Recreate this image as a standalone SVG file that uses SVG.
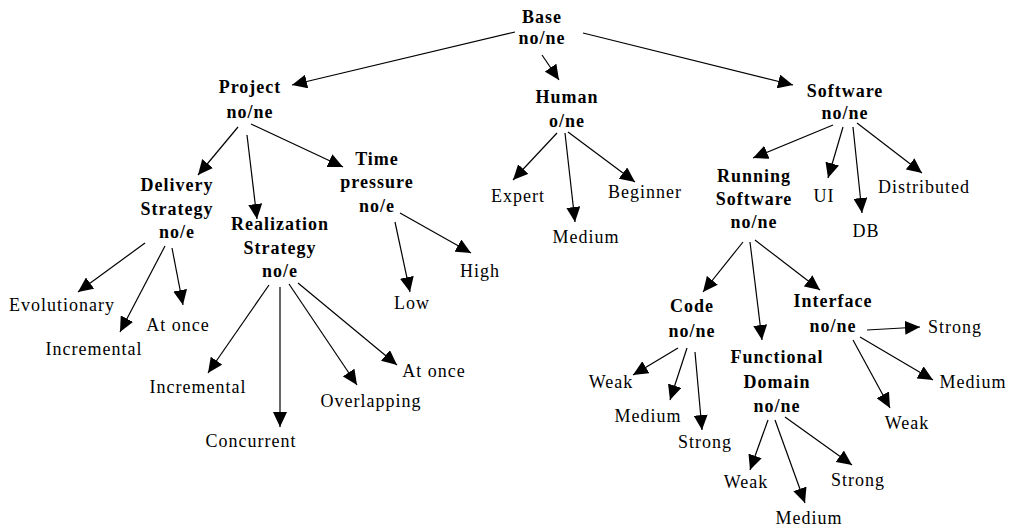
<svg xmlns="http://www.w3.org/2000/svg" width="1011" height="531" viewBox="0 0 1011 531">
<style>
text{font-family:"Liberation Serif","Times New Roman",serif;font-size:18px;letter-spacing:1px;fill:#000;text-anchor:middle}
.n text{font-weight:bold}
.c line{stroke:#000;stroke-width:1.2;marker-end:url(#ah)}
</style>
<defs>
<marker id="ah" markerUnits="userSpaceOnUse" markerWidth="15" markerHeight="14" refX="15" refY="7" orient="auto" viewBox="0 0 15 14">
<path d="M0,0 L15,7 L0,14 z" fill="#000"/>
</marker>
</defs>
<rect width="1011" height="531" fill="#fff"/>
<g class="c" id="connectors">
<line x1="515" y1="32" x2="292" y2="85"/>
<line x1="542" y1="55" x2="559" y2="80"/>
<line x1="583" y1="33" x2="793" y2="85"/>
<line x1="238" y1="127" x2="198" y2="175"/>
<line x1="247" y1="135" x2="257" y2="219"/>
<line x1="251" y1="124" x2="343" y2="167"/>
<line x1="145" y1="243" x2="78" y2="292"/>
<line x1="165" y1="246" x2="120" y2="332"/>
<line x1="172" y1="248" x2="183" y2="305"/>
<line x1="269" y1="285" x2="208" y2="373"/>
<line x1="280" y1="287" x2="280" y2="427"/>
<line x1="289" y1="284" x2="357" y2="385"/>
<line x1="298" y1="283" x2="397" y2="365"/>
<line x1="395" y1="222" x2="410" y2="292"/>
<line x1="400" y1="213" x2="471" y2="253"/>
<line x1="557" y1="133" x2="513" y2="180"/>
<line x1="565" y1="133" x2="575" y2="222"/>
<line x1="568" y1="132" x2="635" y2="182"/>
<line x1="833" y1="125" x2="753" y2="158"/>
<line x1="843" y1="127" x2="828" y2="178"/>
<line x1="853" y1="127" x2="862" y2="213"/>
<line x1="857" y1="123" x2="922" y2="173"/>
<line x1="743" y1="242" x2="703" y2="292"/>
<line x1="750" y1="242" x2="762" y2="340"/>
<line x1="755" y1="240" x2="820" y2="290"/>
<line x1="678" y1="348" x2="633" y2="375"/>
<line x1="687" y1="348" x2="670" y2="400"/>
<line x1="695" y1="352" x2="702" y2="430"/>
<line x1="867" y1="330" x2="920" y2="327"/>
<line x1="853" y1="340" x2="890" y2="408"/>
<line x1="860" y1="337" x2="933" y2="380"/>
<line x1="768" y1="420" x2="750" y2="470"/>
<line x1="775" y1="420" x2="805" y2="503"/>
<line x1="785" y1="417" x2="852" y2="465"/>
</g>
<g class="n" id="base"><text x="542" y="23">Base</text><text x="542" y="44">no/ne</text></g>
<g class="n" id="project"><text x="250" y="93">Project</text><text x="250" y="118">no/ne</text></g>
<g class="n" id="human"><text x="567" y="103">Human</text><text x="567" y="127">o/ne</text></g>
<g class="n" id="software"><text x="845" y="97">Software</text><text x="845" y="119">no/ne</text></g>
<g class="n" id="delivery"><text x="177" y="191">Delivery</text><text x="177" y="215">Strategy</text><text x="177" y="238">no/e</text></g>
<g class="n" id="realization"><text x="280" y="230">Realization</text><text x="280" y="254">Strategy</text><text x="280" y="277">no/e</text></g>
<g class="n" id="time"><text x="377" y="165">Time</text><text x="377" y="188">pressure</text><text x="377" y="212">no/e</text></g>
<g class="n" id="running"><text x="754" y="182">Running</text><text x="754" y="205">Software</text><text x="754" y="228">no/ne</text></g>
<g class="n" id="code"><text x="692" y="312">Code</text><text x="692" y="337">no/ne</text></g>
<g class="n" id="interface"><text x="833" y="307">Interface</text><text x="833" y="332">no/ne</text></g>
<g class="n" id="functional"><text x="777" y="363">Functional</text><text x="777" y="388">Domain</text><text x="777" y="412">no/ne</text></g>
<g id="leaf-evolutionary"><text x="62" y="311">Evolutionary</text></g>
<g id="leaf-d-atonce"><text x="178" y="331">At once</text></g>
<g id="leaf-d-incremental"><text x="94" y="355">Incremental</text></g>
<g id="leaf-r-incremental"><text x="198" y="393">Incremental</text></g>
<g id="leaf-concurrent"><text x="251" y="447">Concurrent</text></g>
<g id="leaf-overlapping"><text x="371" y="407">Overlapping</text></g>
<g id="leaf-r-atonce"><text x="434" y="377">At once</text></g>
<g id="leaf-low"><text x="412" y="309">Low</text></g>
<g id="leaf-high"><text x="480" y="277">High</text></g>
<g id="leaf-expert"><text x="518" y="202">Expert</text></g>
<g id="leaf-h-medium"><text x="586" y="243">Medium</text></g>
<g id="leaf-beginner"><text x="645" y="198">Beginner</text></g>
<g id="leaf-ui"><text x="824" y="202">UI</text></g>
<g id="leaf-db"><text x="866" y="237">DB</text></g>
<g id="leaf-distributed"><text x="924" y="193">Distributed</text></g>
<g id="leaf-c-weak"><text x="611" y="388">Weak</text></g>
<g id="leaf-c-medium"><text x="648" y="422">Medium</text></g>
<g id="leaf-c-strong"><text x="705" y="448">Strong</text></g>
<g id="leaf-i-strong"><text x="955" y="333">Strong</text></g>
<g id="leaf-i-medium"><text x="973" y="388">Medium</text></g>
<g id="leaf-i-weak"><text x="907" y="429">Weak</text></g>
<g id="leaf-f-weak"><text x="746" y="488">Weak</text></g>
<g id="leaf-f-strong"><text x="858" y="486">Strong</text></g>
<g id="leaf-f-medium"><text x="809" y="524">Medium</text></g>
</svg>
